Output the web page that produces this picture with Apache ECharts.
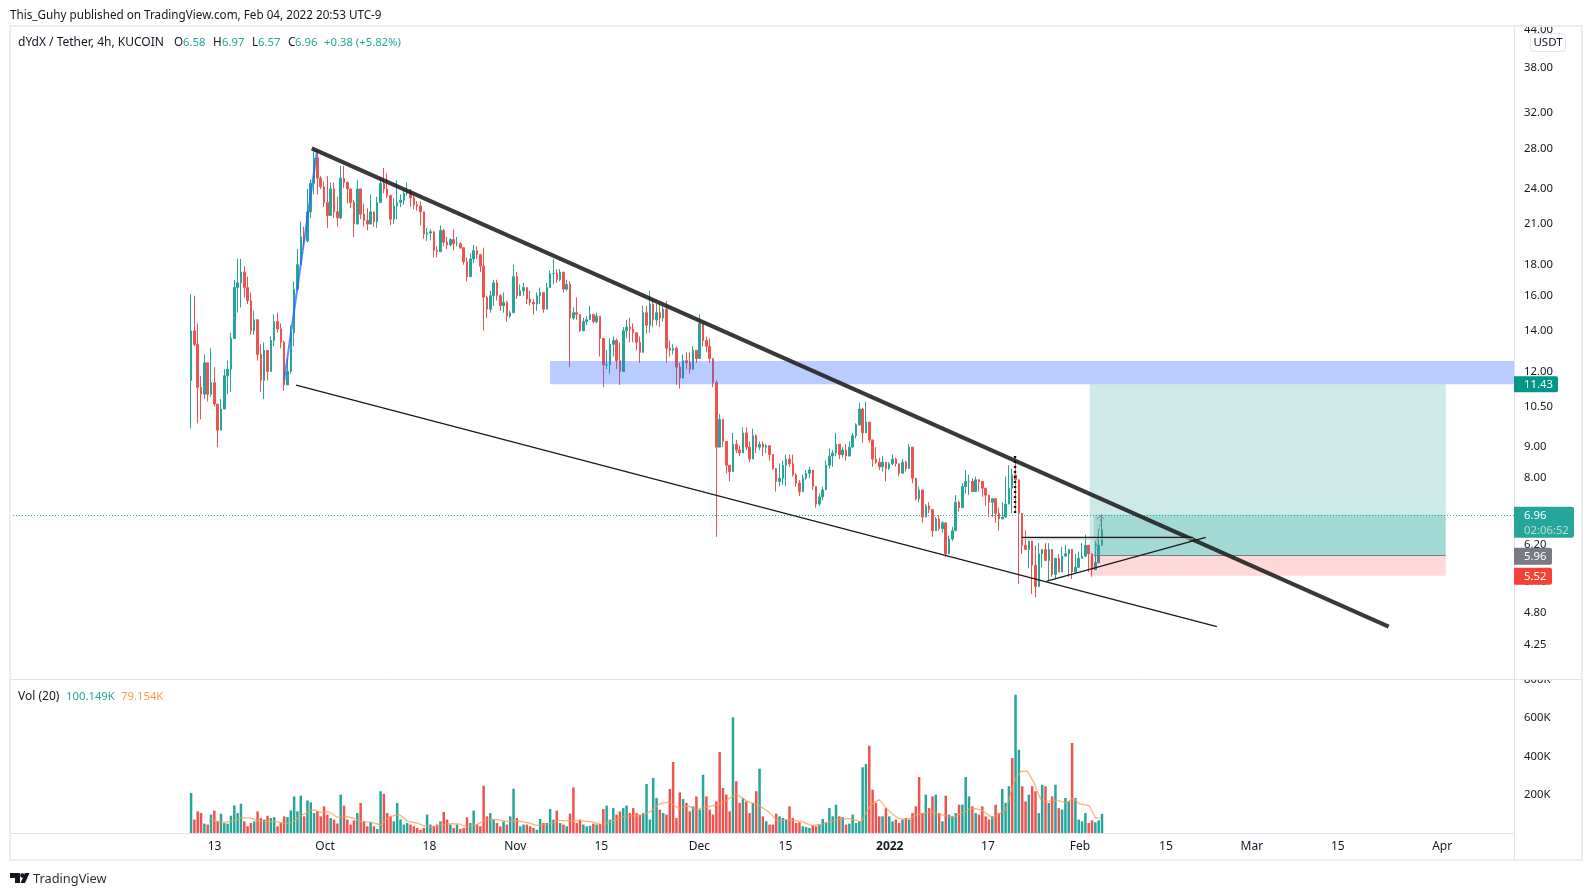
<!DOCTYPE html>
<html><head><meta charset="utf-8">
<style>html,body{margin:0;padding:0;background:#fff}#c{width:1592px;height:896px}</style>
<script src="https://cdn.jsdelivr.net/npm/echarts@6/dist/echarts.min.js"></script>
</head><body><div id="c"></div>
<script>
const FONT = '"Noto Sans", sans-serif';
const UP = '#26a69a', DOWN = '#ef5350';
const NUM_SIZE = 11.3;

// candle timeline
const firstBarTime = '2021-09-09T04:00:00Z';
const barHours = 13;

const opens = [
11.6,14,13.3,11.3,11,12.4,11,11.5,10.6,9.6,10.4,11.8,12.1,13.6,16.5,16.8,17.5,16.5,15.7,14,14.6,12.8,11.6,13,12,13.5,14.5,14.1,13.4,11.4,12,13.9,16.4,18,20,19.7,22,24.5,27,25,24.2,22.8,21.7,24,22,21.5,25,24.6,24,22.8,21,24,21.8,21.3,21,22,21.2,22.8,24.5,24,23.4,21.4,22.5,22.8,23,23.6,23.8,23.2,22.6,22.5,22,20.2,20.3,20.4,19,18.9,20.5,19.6,19.4,19.8,19.5,19.5,19.2,18.2,
17.2,18.4,19,18.7,17.9,15.9,15.2,16,16.8,16,15.4,15.6,14.8,15,17.2,16,16.3,16.5,15.8,15.6,15.5,16,16.2,15.2,16.5,17.4,17.4,17,17.5,16.4,16.7,14.7,15,14.9,14,14.5,14.6,14.9,14.5,14.8,13.6,12.3,12.3,13.3,13.5,12.5,12,14,14.2,14.1,13.9,13.4,12.9,15,14.3,15.5,14.6,15,14.7,15.2,13.1,13,13.1,12.2,11.7,12.5,12.4,12.1,13,12.6,14.4,13.5,13.2,12.6,11.5,9,10,9.2,8.4,8.2,9.1,8.9,8.8,9.5,9,8.6,9.4,9,9.1,9,
9.05,8.75,8.3,7.9,8,8.4,8.6,8.45,8.1,7.85,7.6,8,8.15,8.25,7.75,7.25,7.45,7.65,8.4,8.7,8.8,9.1,8.75,8.9,8.7,9,9.4,9.8,10.4,9.5,9.9,9.25,8.6,8.5,8.35,8.5,8.3,8.45,8.6,8.45,8.15,8.5,8.3,9,8,7.4,7.65,6.9,7.2,7.1,6.55,6.85,6.6,6.75,6,6.35,6.55,7.3,7.15,7.75,7.9,7.9,7.6,7.95,7.9,7.7,7.5,7.3,7.4,7,6.85,6.9,7.25,7.7,8.1,7.95,7,6.2,6.1,6.3,5.75,5.3,6,6.1,5.85,6.1,5.55,5.9,5.6,5.95,6,6.1,5.6,5.7,5.9,5.95,6.2,6,5.65,5.8,6.2,6.58];
const closes = [
14,13.3,11.3,11,12.4,11,11.5,10.6,9.6,10.4,11.8,12.1,13.6,16.5,16.8,17.5,16.5,15.7,14,14.6,12.8,11.6,13,12,13.5,14.5,14.1,13.4,11.4,12,13.9,16.4,18,20,19.7,22,24.5,27,25,24.2,22.8,21.7,24,22,21.5,25,24.6,24,22.8,21,24,21.8,21.3,21,22,21.2,22.8,24.5,24,23.4,21.4,22.5,22.8,23,23.6,23.8,23.2,22.6,22.5,22,20.2,20.3,20.4,19,18.9,20.5,19.6,19.4,19.8,19.5,19.5,19.2,18.2,17.2,
18.4,19,18.7,17.9,15.9,15.2,16,16.8,16,15.4,15.6,14.8,15,17.2,16,16.3,16.5,15.8,15.6,15.5,16,16.2,15.2,16.5,17.4,17.4,17,17.5,16.4,16.7,14.7,15,14.9,14,14.5,14.6,14.9,14.5,14.8,13.6,12.3,12.3,13.3,13.5,12.5,12,14,14.2,14.1,13.9,13.4,12.9,15,14.3,15.5,14.6,15,14.7,15.2,13.1,13,13.1,12.2,11.7,12.5,12.4,12.1,13,12.6,14.4,13.5,13.2,12.6,11.5,9,10,9.2,8.4,8.2,9.1,8.9,8.8,9.5,9,8.6,9.4,9,9.1,9,9.05,
8.75,8.3,7.9,8,8.4,8.6,8.45,8.1,7.85,7.6,8,8.15,8.25,7.75,7.25,7.45,7.65,8.4,8.7,8.8,9.1,8.75,8.9,8.7,9,9.4,9.8,10.4,9.5,9.9,9.25,8.6,8.5,8.35,8.5,8.3,8.45,8.6,8.45,8.15,8.5,8.3,9,8,7.4,7.65,6.9,7.2,7.1,6.55,6.85,6.6,6.75,6,6.35,6.55,7.3,7.15,7.75,7.9,7.9,7.6,7.95,7.9,7.7,7.5,7.3,7.4,7,6.85,6.9,7.25,7.7,8.1,7.95,7,6.2,6.1,6.3,5.75,5.3,6,6.1,5.85,6.1,5.55,5.9,5.6,5.95,6,6.1,5.6,5.7,5.9,5.95,6.2,6,5.65,5.8,6.2,6.58,6.96];
const highs = [
16.1,16,14.4,11.8,12.8,11.9,13.1,12.2,10.6,10.8,12.1,12.5,13.9,17,18.4,18.4,17.9,17.2,16.2,15.1,14.2,13.3,13.4,13,13.7,14.9,15,14.4,13.5,12.6,14.3,16.9,19.1,21.2,20.8,24,24.9,27.8,27.8,25.2,24.7,25.2,24.6,24.6,23.3,26.2,26.2,24.7,24,23,24.8,24,22.7,22.3,23.5,22,23.3,24.9,26,25.5,23.5,23.2,24.8,23.5,24,24.6,24,23.4,22.9,22.9,22,20.7,20.6,20.4,19.3,20.9,20.6,20,19.9,20.6,20,19.6,19.2,18.5,
18.8,19.4,19.3,18.5,19.2,16,16.3,17,17,16.1,16.2,15.7,15.1,18,17.5,16.7,16.8,16.5,16.3,15.8,16.2,16.5,16.2,16.8,17.6,18.4,17.7,17.7,17.5,17,16.9,15.3,15.9,14.9,14.7,14.8,15.4,14.9,15,14.8,13.6,13,13.6,13.7,13.6,13.4,14.2,14.6,14.7,14.4,13.9,13.7,15.4,15.4,16.3,15.8,15.5,15.5,15.4,15.7,13.5,13.3,13.2,12.4,12.8,12.9,12.9,13.2,13,14.9,14.4,13.7,13.6,12.6,11.6,10.2,10,9.2,8.4,9.5,9.25,9.05,9.7,9.7,9.2,9.65,9.45,9.2,9.2,9.1,
9.05,8.75,8.3,8.46,8.55,8.75,8.75,8.75,8.15,7.94,8.1,8.25,8.35,8.25,7.75,7.55,7.75,8.55,8.95,8.9,9.5,9.1,9,9.1,9.2,9.5,9.85,10.65,10.45,10.7,9.9,9.25,9,8.65,8.7,8.5,8.5,8.75,8.65,8.45,8.6,8.55,9.1,9,8,7.75,7.65,7.25,7.3,7.1,6.9,6.95,6.8,6.75,6.43,6.65,7.5,7.35,7.85,8.25,8.1,8,8.05,7.9,7.75,7.6,7.45,7.4,7.1,7.15,7.3,8.05,8.4,8.3,8.7,7,6.65,6.56,6.3,5.75,6.2,6.25,6.1,6.25,6.25,5.93,5.9,6,6.16,6.2,6.1,5.8,6,6.05,6.25,6.45,6,5.85,6.3,6.6,6.97];
const lows = [
9.66,13.2,9.85,10,10.8,10.7,10.9,10.5,9,10,10.8,11,11.1,13.7,15,15.3,15.9,15.5,13.8,13.8,12.5,11.1,10.8,11.6,12,13.2,13.9,13.1,11.15,11.4,11.9,13.2,16.3,18,19.3,19.6,21.5,23.5,23.5,24,22.4,20.7,21.7,21.5,20.8,21.4,24.1,22.7,22.3,20,21,21.4,20.8,20.5,21,20.8,20.7,22.8,23.6,23.2,20.9,21,21.4,22.4,22.6,23.4,22.4,22.2,22.1,20.9,19.85,19.7,19.75,18.5,18.5,18.9,19.3,19.1,19.3,19,19.3,19.1,18,16.9,
17.7,18.1,18.4,17.5,14,14.7,15,15.4,15.7,15.1,15,14.5,14.7,15,15.8,16,16,15.5,15.4,14.9,15.1,15.5,15,15.2,16.5,16.7,16.8,16.9,16.2,16.3,12.2,14.6,14.6,13.95,14,14.3,14.6,14.4,14.4,12.7,11.3,12.1,11.9,12.7,12.1,11.4,12,13.6,13.4,13.4,13,12.4,12.9,13.85,13.9,14.2,14.3,14.2,14.5,12.4,12.7,12.8,11.4,11.25,11.7,12.1,11.9,12.1,12.4,12.6,13.2,12.9,12.4,11.3,6.4,9,9,8.15,7.9,8.2,8.8,8.7,8.8,8.9,8.5,8.6,8.8,8.9,8.7,8.8,
8.55,8.25,7.6,7.75,7.8,7.75,8.35,8.05,7.75,7.47,7.6,7.95,8,7.65,7.15,7.2,7.35,7.65,8.3,8.35,8.7,8.6,8.65,8.55,8.7,9,9.3,9.75,9.15,9.5,9.15,8.35,8.45,8.25,8.2,7.9,8.25,8.4,8.35,8.05,8.15,8.2,8.3,7.85,7.35,7.3,6.75,6.9,7,6.4,6.55,6.55,6.5,5.93,6,6.3,6.55,7.05,7.15,7.55,7.5,7.6,7.75,7.6,7.45,7.2,6.9,6.9,6.75,6.55,6.9,7.1,7.5,7,7,5.35,6,6.1,5.68,5.15,5.09,5.75,5.7,5.85,5.42,5.5,5.45,5.6,5.8,5.93,5.5,5.45,5.7,5.85,5.9,5.93,5.6,5.5,5.8,6.1,6.57];

// volume in thousands, one per candle
const volumesK = [
209,70,113,104,49,44,96,117,61,101,52,49,90,144,104,153,61,35,52,61,113,78,70,90,78,83,35,52,87,83,118,191,113,195,87,170,160,104,113,87,139,96,78,70,49,200,143,70,44,66,104,157,61,35,56,35,21,218,204,104,87,61,157,70,44,52,44,35,26,17,26,96,44,35,44,61,110,70,44,26,44,21,26,82,52,117,44,35,247,87,104,70,52,35,61,44,87,231,78,35,44,44,35,26,17,73,52,52,125,70,117,52,44,35,101,238,52,70,44,35,38,49,44,47,125,143,70,130,96,113,130,143,104,130,104,96,
104,256,70,287,183,122,104,96,230,371,78,212,177,157,113,139,191,122,304,191,122,96,165,423,235,200,113,604,270,157,183,165,104,157,218,336,87,61,44,44,101,87,78,70,139,78,52,56,35,31,26,40,35,44,73,56,130,87,148,87,83,44,49,96,52,61,343,360,456,226,157,87,87,130,87,61,70,52,70,78,70,104,139,292,104,200,130,191,200,104,61,195,96,87,104,148,148,292,191,139,104,96,139,87,70,87,148,104,230,157,244,391,722,435,244,165,200,244,218,104,252,244,157,191,252,130,122,183,165,470,183,70,61,104,52,66,56,66,100];
// bars whose colour was read directly for the tallest spikes
const volUpSpikes = [0,97,137,139,154,163,171,202,203,233,248,249];
const volDownSpikes = [88,115,144,145,159,204,219,247,265];

// volume moving average, read every few bars (bar position, value in thousands)
const volMaBars = [5.5,8,10.5,13,15.5,18,20.5,23,25.5,28,30.5,33,36.5,39,41.5,44,46.5,49,51.5,54,57,59.5,62.5,65,68,70.5,74,77,80.5,83,86,88.5,92,94.5,97.5,101,104,107.5,110.5,115,118,121,123.5,126.5,130,133.5,135.3,138.3,140.8,143.8,146.8,149.3,151.8,154.8,158.4,160.9,163.9,167.4,170.9,173.9,176.4,179.4,183.4,186.9,190.4,194.5,198.5,201.5,204.5,207,209.5,212.5,215.5,218.5,222.5,225.5,229.5,234.6,237.6,241.1,245.1,247.6,249.6,251.6,253.6,255.6,257.6,260.6,263.1,265.4,267.1,270.1,272.1,273.6];
const volMaK = [75,59,57,66,80,78,61,59,61,49,56,90,122,108,110,82,87,77,57,57,42,82,99,61,52,35,35,49,47,33,44,68,71,61,64,56,40,45,66,63,63,57,42,61,87,90,90,113,151,162,127,143,122,134,148,169,204,165,143,108,61,70,61,38,49,71,75,57,148,174,122,78,70,96,110,96,82,130,122,78,122,270,322,322,261,174,165,171,157,183,153,143,78,79.154];

// axes
const priceTicks = [44,38,32,28,24,21,18,16,14,12,10.5,9,8,6.2,5.4,4.8,4.25];
const volTicksK = [200,400,600,800];
const timeTickDates = ['2021-09-13','2021-10-01','2021-10-18','2021-11-01','2021-11-15','2021-12-01','2021-12-15','2022-01-01','2022-01-17','2022-02-01','2022-02-15','2022-03-01','2022-03-15','2022-04-01'];
const timeTickLabels = ['13','Oct','18','Nov','15','Dec','15','2022','17','Feb','15','Mar','15','Apr'];
const timeMin = '2021-08-10T16:00:00Z', timeMax = '2022-04-12T17:00:00Z';
const priceMin = 3.73, priceMax = 44.4, volMaxK = 804;

// drawings: dates and prices
const wedgeTopDates = ['2021-09-28T20:00:00Z','2022-03-23T07:00:00Z'], wedgeTopPrices = [28.0,4.55];
const wedgeLowDates = ['2021-09-26T07:00:00Z','2022-02-23T07:00:00Z'], wedgeLowPrices = [11.39,4.55];
const flatDates = ['2022-01-22T12:00:00Z','2022-02-19T10:00:00Z'], flatPrices = [6.39,6.39], flatShadePrices = [6.35,6.35];
const riseDates = ['2022-01-26T14:00:00Z','2022-02-21T12:00:00Z'], risePrices = [5.41,6.39];
const impulseDates = ['2021-09-24T08:00:00Z','2021-09-29T17:00:00Z'], impulsePrices = [11.6,27.8];
const wickMarkDates = ['2022-01-21T10:00:00Z','2022-01-21T10:00:00Z'], wickMarkPrices = [8.7,7.0];
const arrowDates = ['2022-02-03T10:00:00Z','2022-02-04T00:00:00Z','2022-02-04T12:00:00Z','2022-02-03T18:00:00Z','2022-02-04T12:00:00Z','2022-02-05T00:00:00Z'];
const arrowPrices = [5.95,6.5,6.95,6.85,6.95,6.8];
const zoneLeft = '2021-11-06T16:00:00Z', zoneTop = 12.48, zoneBottom = 11.43;
const longLeft = '2022-02-02T14:00:00Z', longRunLeft = '2022-02-03T06:00:00Z', longRight = '2022-04-01T14:00:00Z';
const longTarget = 11.43, longEntry = 5.96, longStop = 5.52, lastPrice = 6.96;
const tagPrices = [11.43,6.96,5.96,5.52];
const tagTexts = ['11.43','6.96','5.96','5.52'];
const countdownText = '02:06:52';

const ms = s => new Date(s).getTime();
const barTime = b => ms(firstBarTime) + b * barHours * 3600e3;
const pairs = (d, p) => d.map((t, i) => [ms(t), p[i]]);

const candleData = closes.map((c, i) => [barTime(i), opens[i], c, lows[i], highs[i]]);
const volColor = i => volUpSpikes.includes(i) ? UP : volDownSpikes.includes(i) ? DOWN : (closes[i] >= opens[i] ? UP : DOWN);
const volData = volumesK.map((v, i) => ({value: [barTime(i), v], itemStyle: {color: volColor(i)}}));
const volMaData = volMaBars.map((b, i) => [barTime(b), volMaK[i]]);

const lineSeries = (d, p, color, width, type, z) => ({
  type: 'line', xAxisIndex: 0, yAxisIndex: 0, data: pairs(d, p), showSymbol: false, symbol: 'none',
  silent: true, z: z || 6, animation: false, lineStyle: {color, width, type: type || 'solid'}
});
const area = (x0, y1, x1, y0, color) => [{xAxis: ms(x0), yAxis: y1, itemStyle: {color}}, {xAxis: x1 === null ? ms(timeMax) : ms(x1), yAxis: y0}];

const tagStyle = [
  {fill: '#009688', w: 44, top: 8, h: 16},
  {fill: '#26a69a', w: 60, top: 8, h: 31},
  {fill: '#787b86', w: 38, top: 8, h: 17},
  {fill: '#f44336', w: 38, top: 8, h: 17}
];

const label = (text, left, top, color, size) => ({text, left, top, padding: 0,
  textStyle: {fontFamily: FONT, fontSize: size || 11.7, fontWeight: 'normal', color: color || '#131722'}});

const option = {
  animation: false,
  backgroundColor: '#fff',
  textStyle: {fontFamily: FONT},
  title: [
    label('This_Guhy published on TradingView.com, Feb 04, 2022 20:53 UTC-9', 10, 10),
    label('dYdX / Tether, 4h, KUCOIN', 18, 37, '#131722', 12),
    label('O', 174, 37), label('6.58', 183, 37, UP, NUM_SIZE),
    label('H', 213, 37), label('6.97', 222, 37, UP, NUM_SIZE),
    label('L', 252, 37), label('6.57', 258, 37, UP, NUM_SIZE),
    label('C', 288, 37), label('6.96', 295, 37, UP, NUM_SIZE),
    label('+0.38 (+5.82%)', 324, 37, UP, NUM_SIZE),
    label('Vol (20)', 18, 691, '#131722', 12),
    label('100.149K', 66, 691, UP, NUM_SIZE),
    label('79.154K', 121, 691, '#ff9850', NUM_SIZE),
    label('TradingView', 33, 873, '#2a2e39', 12.8)
  ],
  grid: [
    {left: 10, right: 78, top: 27, height: 652},
    {left: 10, right: 78, top: 679, height: 154}
  ],
  xAxis: [
    {type: 'value', gridIndex: 0, min: ms(timeMin), max: ms(timeMax), axisLine: {show: true, onZero: false, lineStyle: {color: '#e0e3eb', width: 1}},
      axisTick: {show: false}, axisLabel: {show: false}, splitLine: {show: false}},
    {type: 'value', gridIndex: 1, min: ms(timeMin), max: ms(timeMax), axisLine: {show: true, onZero: false, lineStyle: {color: '#e0e3eb', width: 1}},
      axisTick: {show: false}, splitLine: {show: false},
      axisLabel: {show: true, customValues: timeTickDates.map(ms), margin: 8, fontFamily: FONT, fontSize: 12, color: '#131722', hideOverlap: false,
        formatter: v => {
          const i = timeTickDates.findIndex(d => ms(d) === +v);
          const t = i < 0 ? '' : timeTickLabels[i];
          return t === '2022' ? '{b|2022}' : t;
        },
        rich: {b: {fontFamily: FONT, fontSize: 12, fontWeight: 'bold', color: '#131722'}}}}
  ],
  yAxis: [
    {type: 'log', gridIndex: 0, position: 'right', min: priceMin, max: priceMax, axisLine: {show: true, onZero: false, lineStyle: {color: '#e0e3eb', width: 1}},
      axisTick: {show: false}, splitLine: {show: false},
      axisLabel: {show: true, customValues: priceTicks, margin: 10, padding: [2, 0, 0, 0], fontFamily: FONT, fontSize: NUM_SIZE, color: '#131722', hideOverlap: false,
        formatter: v => (+v).toFixed(2)}},
    {type: 'value', gridIndex: 1, position: 'right', min: 0, max: volMaxK, axisLine: {show: true, onZero: false, lineStyle: {color: '#e0e3eb', width: 1}},
      axisTick: {show: false}, splitLine: {show: false},
      axisLabel: {show: true, customValues: volTicksK, margin: 10, padding: [3, 0, 0, 0], fontFamily: FONT, fontSize: NUM_SIZE, color: '#131722', hideOverlap: false, formatter: v => v + 'K'}}
  ],
  series: [
    {type: 'candlestick', name: 'price', xAxisIndex: 0, yAxisIndex: 0, data: candleData, barWidth: 2, z: 2, silent: true,
      itemStyle: {color: UP, color0: DOWN, borderColor: UP, borderColor0: DOWN, borderWidth: 1}},
    {type: 'line', xAxisIndex: 0, yAxisIndex: 0, data: [], silent: true, z: 4,
      markArea: {silent: true, z: 4, data: [
        area(zoneLeft, zoneTop, null, zoneBottom, 'rgba(41,98,255,0.33)'),
        area(longLeft, longTarget, longRight, longEntry, 'rgba(38,166,154,0.23)'),
        area(longRunLeft, lastPrice, longRight, longEntry, 'rgba(38,166,154,0.25)'),
        area(longLeft, longEntry, longRight, longStop, 'rgba(255,0,0,0.15)')
      ]},
      markLine: {silent: true, symbol: 'none', z: 4, label: {show: false},
        data: [
          {yAxis: lastPrice, lineStyle: {color: UP, type: [1, 2], width: 1, opacity: 1}},
          [{xAxis: ms(longRunLeft), yAxis: longEntry, lineStyle: {color: '#787b86', type: 'solid', width: 1}}, {xAxis: ms(longRight), yAxis: longEntry}]
        ]}},
    lineSeries(impulseDates, impulsePrices, 'rgba(41,98,255,0.75)', 2),
    lineSeries(wedgeTopDates, wedgeTopPrices, 'rgba(30,30,30,0.88)', 4.2),
    lineSeries(wedgeLowDates, wedgeLowPrices, '#1a1a1a', 1.3),
    lineSeries(flatDates, flatShadePrices, '#bdbdbd', 1),
    lineSeries(flatDates, flatPrices, '#1a1a1a', 1.3),
    lineSeries(riseDates, risePrices, '#1a1a1a', 1.3),
    lineSeries(wickMarkDates, wickMarkPrices, '#111', 2.4, [2, 3]),
    lineSeries(arrowDates, arrowPrices, '#8a8f98', 1, [3, 2]),
    {type: 'custom', xAxisIndex: 0, yAxisIndex: 0, z: 20, silent: true, clip: false,
      encode: {x: 0, y: 1},
      data: tagPrices.map((p, i) => [ms(timeMax), p, tagTexts[i]]),
      renderItem: (params, api) => {
        const i = params.dataIndex, s = tagStyle[i];
        const pt = api.coord([api.value(0), api.value(1)]);
        const kids = [
          {type: 'rect', shape: {x: pt[0], y: pt[1] - s.top, width: s.w, height: s.h, r: [0, 2, 2, 0]}, style: {fill: s.fill}},
          {type: 'text', style: {x: pt[0] + 10, y: pt[1] + 1, text: tagTexts[i], fill: '#fff', font: NUM_SIZE + 'px ' + FONT, verticalAlign: 'middle'}}
        ];
        if (i === 1) kids.push({type: 'text', style: {x: pt[0] + 10, y: pt[1] + 15.5, text: countdownText, fill: 'rgba(255,255,255,0.65)', font: NUM_SIZE + 'px ' + FONT, verticalAlign: 'middle'}});
        return {type: 'group', children: kids};
      }},
    {type: 'bar', xAxisIndex: 1, yAxisIndex: 1, data: volData, barWidth: 2.5, z: 2, silent: true},
    {type: 'line', xAxisIndex: 1, yAxisIndex: 1, data: volMaData, showSymbol: false, symbol: 'none', z: 5, silent: true,
      lineStyle: {color: '#ff9850', width: 1.3, opacity: 0.75}}
  ],
  graphic: [
    {type: 'rect', z: 50, shape: {x: 1516, y: 18, width: 64, height: 8}, style: {fill: '#fff'}},
    {type: 'rect', z: 50, shape: {x: 1516, y: 672, width: 64, height: 7}, style: {fill: '#fff'}},
    {type: 'rect', z: 51, shape: {x: 10, y: 26, width: 1572, height: 834}, style: {fill: 'none', stroke: '#eceef3', lineWidth: 2}},
    {type: 'line', z: 51, shape: {x1: 1514.5, y1: 833, x2: 1514.5, y2: 860}, style: {stroke: '#e0e3eb', lineWidth: 1}},
    {type: 'line', z: 51, shape: {x1: 1514, y1: 679.5, x2: 1581, y2: 679.5}, style: {stroke: '#e0e3eb', lineWidth: 1}},
    {type: 'rect', z: 52, shape: {x: 1530.5, y: 33.5, width: 35, height: 18, r: 4}, style: {fill: '#fff', stroke: '#e0e3eb', lineWidth: 1}},
    {type: 'text', z: 53, style: {x: 1548, y: 42.5, text: 'USDT', fill: '#131722', font: '11.5px ' + FONT, align: 'center', verticalAlign: 'middle'}},
    {type: 'polygon', z: 53, shape: {points: [[10,873],[20,873],[20,883],[15,883],[15,878],[10,878]]}, style: {fill: '#131722'}},
    {type: 'circle', z: 53, shape: {cx: 22.5, cy: 875.5, r: 2.3}, style: {fill: '#131722'}},
    {type: 'polygon', z: 53, shape: {points: [[25,873],[29.5,873],[25,883],[20.5,883]]}, style: {fill: '#131722'}}
  ]
};
const chart = echarts.init(document.getElementById('c'), null, {renderer: 'canvas', width: 1592, height: 896});
chart.setOption(option);
</script></body></html>
